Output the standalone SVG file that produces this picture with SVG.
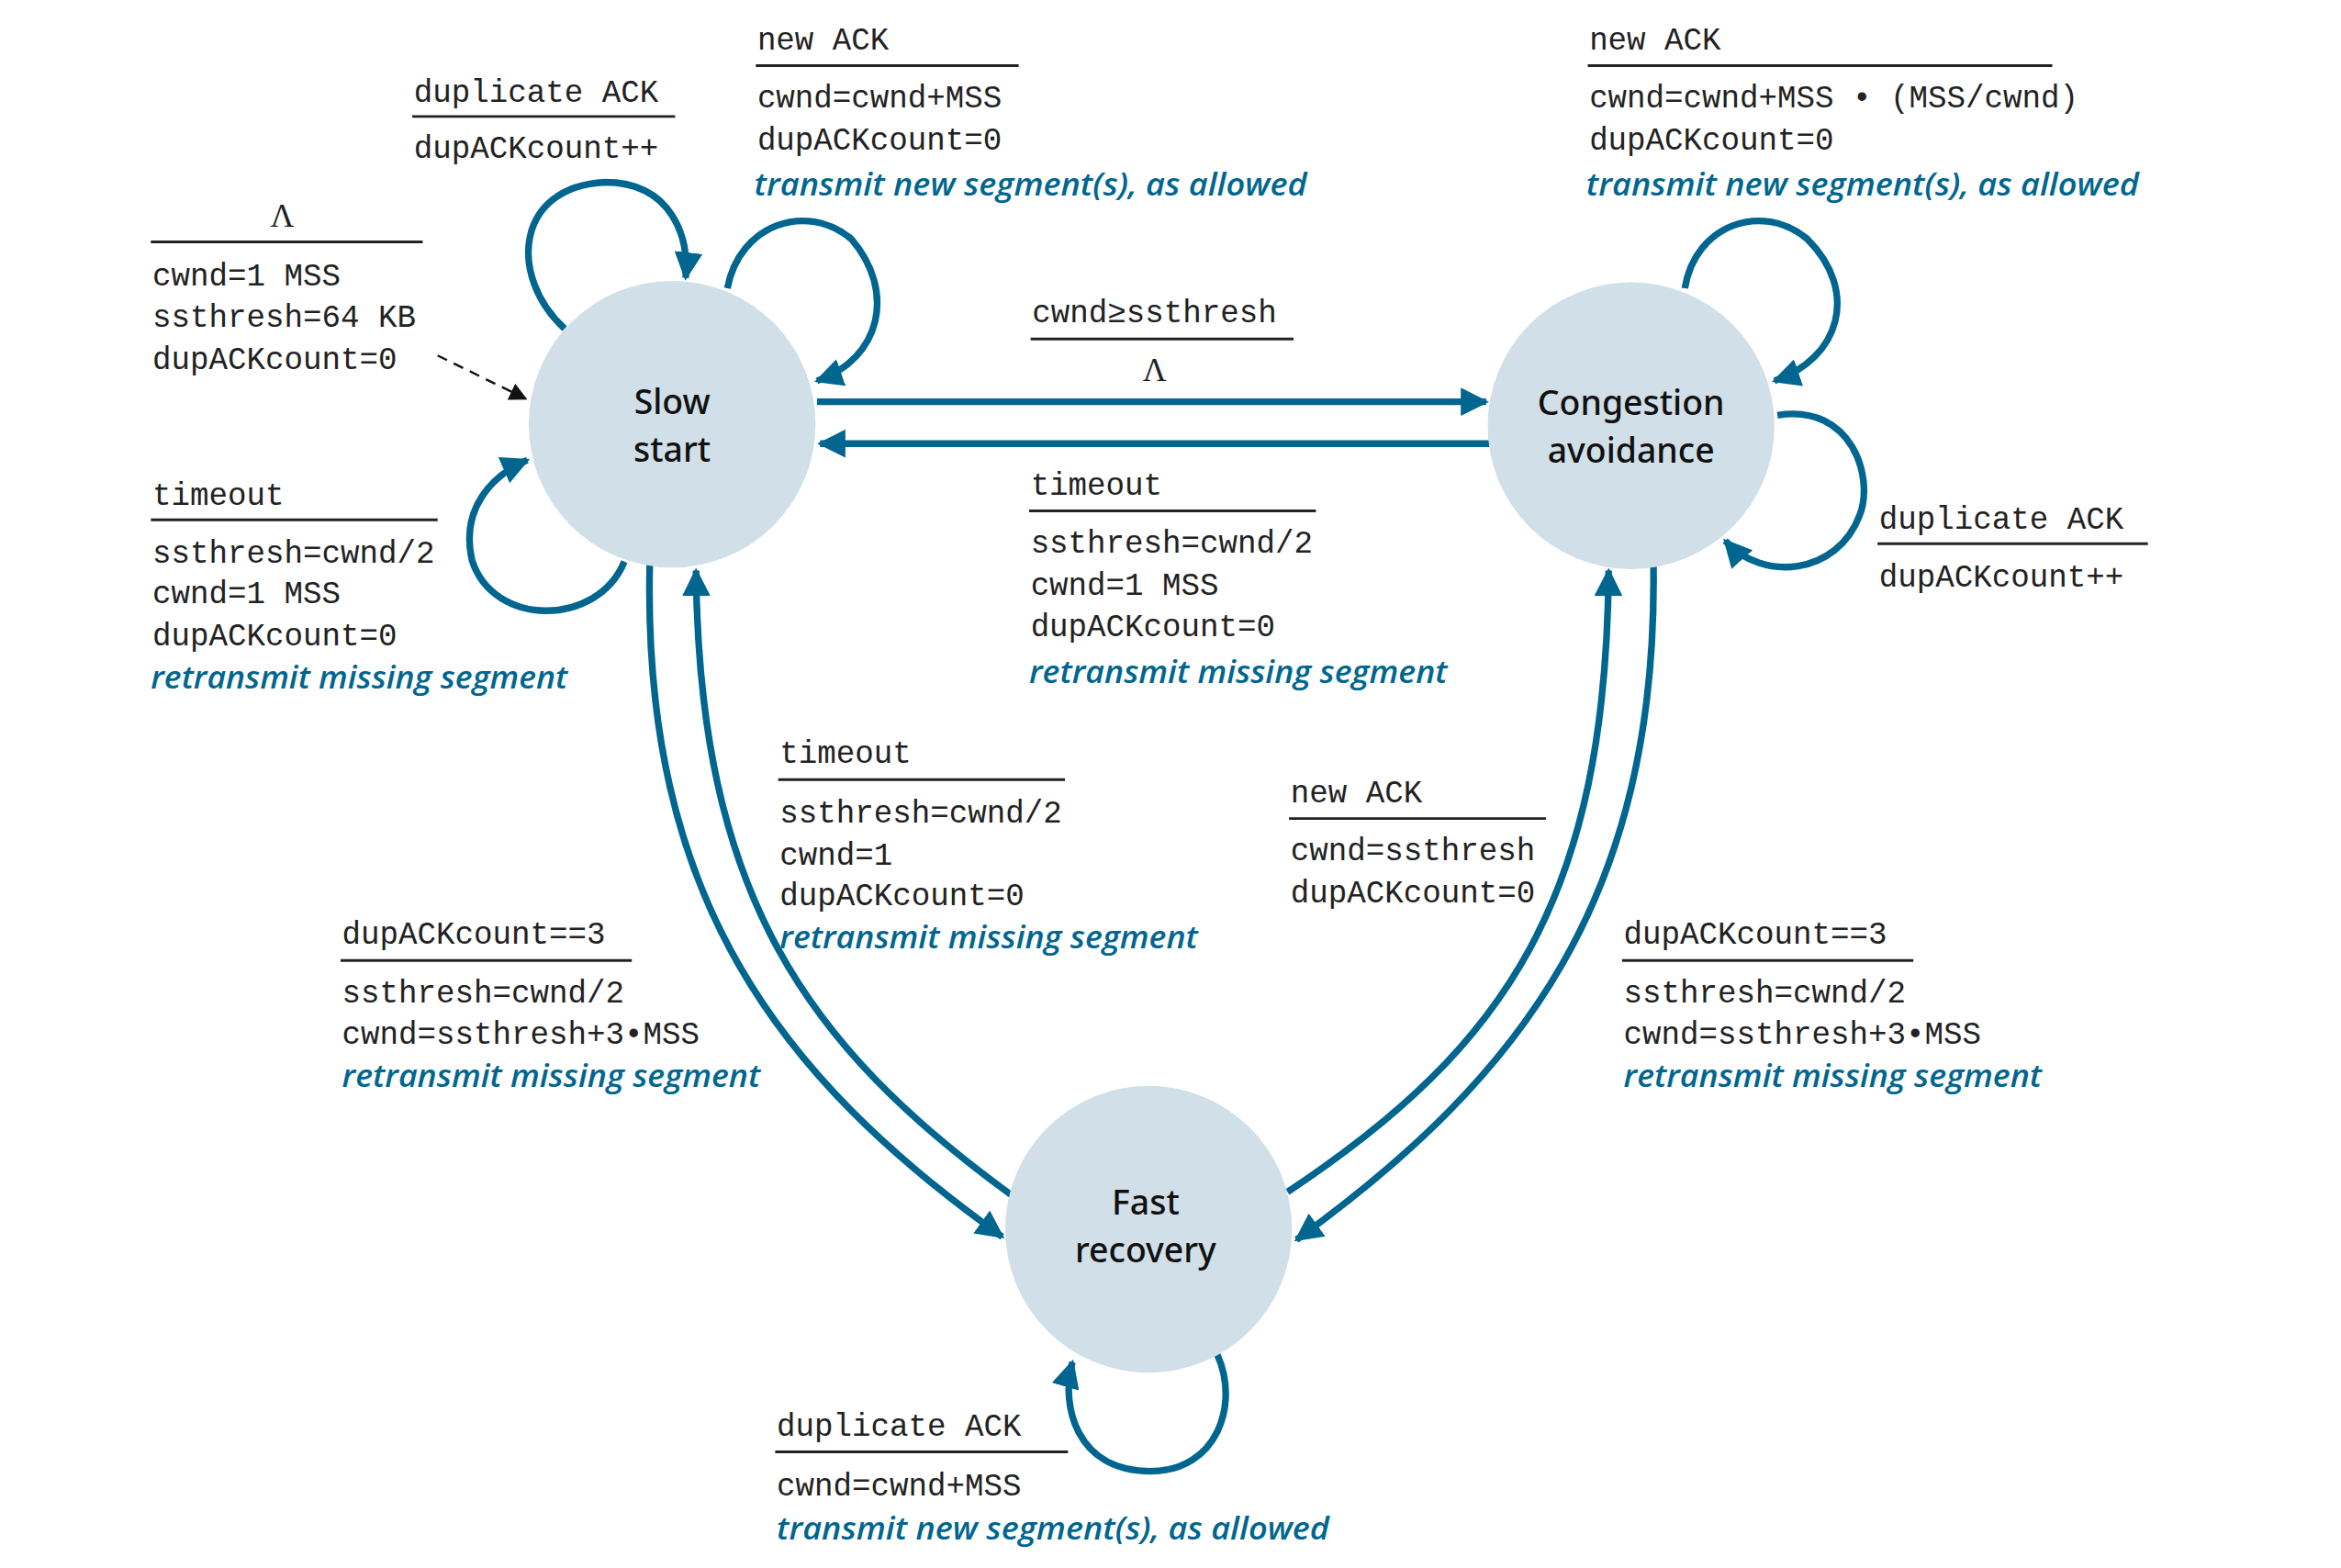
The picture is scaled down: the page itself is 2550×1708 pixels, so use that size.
<svg xmlns="http://www.w3.org/2000/svg" width="2550" height="1708" viewBox="0 0 2550 1708">
<style>
.m{font-family:"Liberation Mono","DejaVu Sans Mono",monospace;font-size:21px;fill:#222}
.i{font-family:"Open Sans","Noto Sans",sans-serif;font-style:italic;font-weight:600;font-size:21px;fill:#00668f}
.n{font-family:"Noto Sans","Open Sans",sans-serif;font-weight:500;font-size:23px;fill:#111;text-anchor:middle}
.u{stroke:#222;stroke-width:1.8}
.c{fill:none;stroke:#00668f;stroke-width:4.5;marker-end:url(#a)}
.s{fill:#d0dfe8}
.l{font-family:"Liberation Serif",serif;font-size:22px;fill:#222;text-anchor:middle}
</style>
<defs>
<marker id="a" viewBox="0 0 10 10" refX="9" refY="5" markerWidth="4.2" markerHeight="4.2" orient="auto"><path d="M0,0L10,5L0,10z" fill="#00668f"/></marker>
<marker id="b" viewBox="0 0 10 10" refX="9" refY="5" markerWidth="12" markerHeight="12" markerUnits="userSpaceOnUse" orient="auto"><path d="M0,0L10,5L0,10z" fill="#111"/></marker>
</defs>
<rect width="2550" height="1708" fill="#fff"/>
<g transform="scale(1.627)">
<g id="connectors">
<path class="c" d="M547,269H995"/>
<path class="c" d="M997,297H549"/>
<path class="c" d="M435,378C430,600 520,720 671,828"/>
<path class="c" d="M677,800C540,700 468,600 466,382"/>
<path class="c" d="M862,798C1010,700 1075,600 1077,382"/>
<path class="c" d="M1107,378C1110,600 1020,720 868,830"/>
<path class="c" d="M378,220C340,185 345,125 405,122C450,122 462,160 459,186"/>
<path class="c" d="M487,193C495,150 540,135 570,160C600,195 590,240 547,255"/>
<path class="c" d="M418,376C400,420 330,420 316,375C308,340 330,318 353,308"/>
<path class="c" d="M1128,193C1135,150 1180,135 1210,160C1245,195 1232,240 1188,255"/>
<path class="c" d="M1190,278C1240,270 1255,320 1245,345C1230,385 1180,390 1155,362"/>
<path class="c" d="M815,907C830,940 815,985 770,985C720,985 710,940 718,912"/>
<path d="M293,238L352,267" stroke="#111" stroke-width="1.5" stroke-dasharray="7,5" fill="none" marker-end="url(#b)"/>
</g>
<g id="slow-start"><circle class="s" cx="450" cy="284" r="96"/><text class="n" x="450" y="277">Slow</text><text class="n" x="450" y="309">start</text></g>
<g id="congestion-avoidance"><circle class="s" cx="1092" cy="285" r="96"/><text class="n" x="1092" y="278">Congestion</text><text class="n" x="1092" y="310">avoidance</text></g>
<g id="fast-recovery"><circle class="s" cx="769" cy="823" r="96"/><text class="n" x="767" y="813">Fast</text><text class="n" x="767" y="845">recovery</text></g>
<g id="labels">
<text class="m" x="277" y="68">duplicate ACK</text><line class="u" x1="276" y1="78" x2="452" y2="78"/><text class="m" x="277" y="106">dupACKcount++</text>
<text class="m" x="507" y="33">new ACK</text><line class="u" x1="506" y1="44" x2="682" y2="44"/><text class="m" x="507" y="72">cwnd=cwnd+MSS</text><text class="m" x="507" y="100">dupACKcount=0</text><text class="i" x="505" y="131" textLength="370" lengthAdjust="spacingAndGlyphs">transmit new segment(s), as allowed</text>
<text class="l" x="189" y="152">Λ</text><line class="u" x1="101" y1="162" x2="283" y2="162"/><text class="m" x="102" y="191">cwnd=1 MSS</text><text class="m" x="102" y="219">ssthresh=64 KB</text><text class="m" x="102" y="247">dupACKcount=0</text>
<text class="m" x="102" y="338">timeout</text><line class="u" x1="101" y1="348" x2="293" y2="348"/><text class="m" x="102" y="377">ssthresh=cwnd/2</text><text class="m" x="102" y="404">cwnd=1 MSS</text><text class="m" x="102" y="432">dupACKcount=0</text><text class="i" x="101" y="461" textLength="279" lengthAdjust="spacingAndGlyphs">retransmit missing segment</text>
<text class="m" x="691" y="216">cwnd≥ssthresh</text><line class="u" x1="690" y1="227" x2="866" y2="227"/><text class="l" x="773" y="255">Λ</text>
<text class="m" x="690" y="331">timeout</text><line class="u" x1="689" y1="342" x2="881" y2="342"/><text class="m" x="690" y="370">ssthresh=cwnd/2</text><text class="m" x="690" y="398">cwnd=1 MSS</text><text class="m" x="690" y="426">dupACKcount=0</text><text class="i" x="689" y="457" textLength="280" lengthAdjust="spacingAndGlyphs">retransmit missing segment</text>
<text class="m" x="1064" y="33">new ACK</text><line class="u" x1="1063" y1="44" x2="1374" y2="44"/><text class="m" x="1064" y="72">cwnd=cwnd+MSS • (MSS/cwnd)</text><text class="m" x="1064" y="100">dupACKcount=0</text><text class="i" x="1062" y="131" textLength="370" lengthAdjust="spacingAndGlyphs">transmit new segment(s), as allowed</text>
<text class="m" x="1258" y="354">duplicate ACK</text><line class="u" x1="1257" y1="364" x2="1438" y2="364"/><text class="m" x="1258" y="393">dupACKcount++</text>
<text class="m" x="522" y="511">timeout</text><line class="u" x1="521" y1="522" x2="713" y2="522"/><text class="m" x="522" y="551">ssthresh=cwnd/2</text><text class="m" x="522" y="579">cwnd=1</text><text class="m" x="522" y="606">dupACKcount=0</text><text class="i" x="522" y="635" textLength="280" lengthAdjust="spacingAndGlyphs">retransmit missing segment</text>
<text class="m" x="864" y="537">new ACK</text><line class="u" x1="863" y1="548" x2="1035" y2="548"/><text class="m" x="864" y="576">cwnd=ssthresh</text><text class="m" x="864" y="604">dupACKcount=0</text>
<text class="m" x="229" y="632">dupACKcount==3</text><line class="u" x1="228" y1="643" x2="423" y2="643"/><text class="m" x="229" y="671">ssthresh=cwnd/2</text><text class="m" x="229" y="699">cwnd=ssthresh+3•MSS</text><text class="i" x="229" y="728" textLength="280" lengthAdjust="spacingAndGlyphs">retransmit missing segment</text>
<text class="m" x="1087" y="632">dupACKcount==3</text><line class="u" x1="1086" y1="643" x2="1281" y2="643"/><text class="m" x="1087" y="671">ssthresh=cwnd/2</text><text class="m" x="1087" y="699">cwnd=ssthresh+3•MSS</text><text class="i" x="1087" y="728" textLength="280" lengthAdjust="spacingAndGlyphs">retransmit missing segment</text>
<text class="m" x="520" y="961">duplicate ACK</text><line class="u" x1="519" y1="972" x2="715" y2="972"/><text class="m" x="520" y="1001">cwnd=cwnd+MSS</text><text class="i" x="520" y="1031" textLength="370" lengthAdjust="spacingAndGlyphs">transmit new segment(s), as allowed</text>
</g>
</g>
</svg>
